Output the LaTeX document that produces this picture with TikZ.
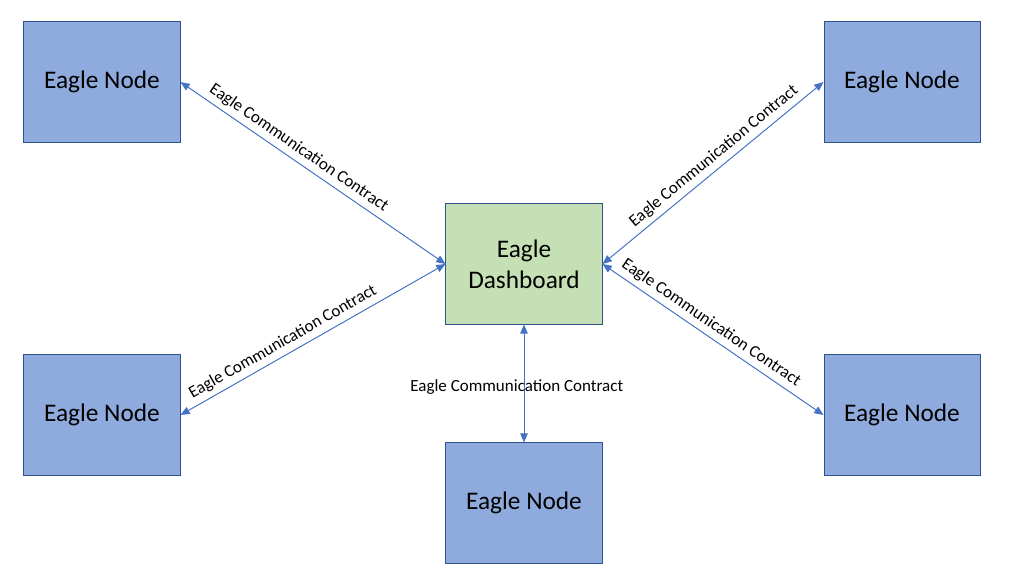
\documentclass[tikz,border=0pt]{standalone}
\usepackage{fontspec}
\setmainfont{Carlito}
\usetikzlibrary{arrows.meta}
\definecolor{nodeblue}{HTML}{8FAADC}
\definecolor{dashgreen}{HTML}{C5E0B4}
\definecolor{boxline}{HTML}{2F528F}
\definecolor{linkblue}{HTML}{4472C4}

\begin{document}
\begin{tikzpicture}[x=0.025cm, y=-0.025cm,
    eaglebox/.style={draw=boxline, fill=nodeblue, line width=0.7pt,
        minimum width=3.9cm, minimum height=3cm, align=center,
        font=\fontsize{18}{22}\selectfont},
    link/.style={linkblue, line width=0.7pt,
        {Triangle[length=2.3mm,width=1.9mm]}-{Triangle[length=2.3mm,width=1.9mm]}},
    linklabel/.style={font=\fontsize{12.1}{14}\selectfont, text=black}]
    \useasboundingbox (0,0) rectangle (1011,583);

    % Dashboard
    \node[eaglebox, fill=dashgreen] (dash) at (524,264) {Eagle\\Dashboard};

    % Eagle nodes
    \node[eaglebox] (nodeTL) at (102,82) {Eagle Node};
    \node[eaglebox] (nodeTR) at (902,82) {Eagle Node};
    \node[eaglebox] (nodeBL) at (102,415) {Eagle Node};
    \node[eaglebox] (nodeBR) at (902,415) {Eagle Node};
    \node[eaglebox] (nodeB) at (524,503) {Eagle Node};

    % Links
    \draw[link] (nodeTL.east) -- node[linklabel, sloped, above, pos=0.42] {Eagle Communication Contract} (dash.west);
    \draw[link] (nodeBL.east) -- node[linklabel, sloped, above, pos=0.41] {Eagle Communication Contract} (dash.west);
    \draw[link] (dash.east) -- node[linklabel, sloped, above, pos=0.54] {Eagle Communication Contract} (nodeTR.west);
    \draw[link] (dash.east) -- node[linklabel, sloped, above, pos=0.46] {Eagle Communication Contract} (nodeBR.west);
    \draw[link] (dash.south) -- node[linklabel, xshift=-0.18cm, yshift=-0.1cm] {Eagle Communication Contract} (nodeB.north);
\end{tikzpicture}
\end{document}
